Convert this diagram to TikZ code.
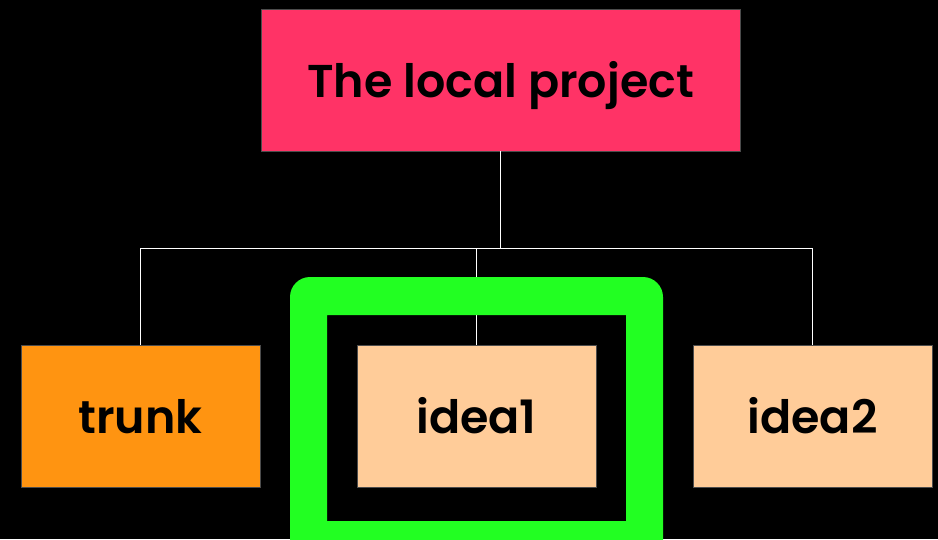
\documentclass[tikz,border=0pt]{standalone}
\usepackage{fontspec}
\setmainfont{Poppins}[BoldFont={Poppins SemiBold}]
\usetikzlibrary{calc}
\definecolor{rootpink}{HTML}{FF3366}
\definecolor{trunkorange}{HTML}{FF9411}
\definecolor{ideapeach}{HTML}{FFCC99}
\definecolor{hilitegreen}{HTML}{22FF22}

\begin{document}
\begin{tikzpicture}[x=1pt, y=-1pt,
		box/.style={draw=black!70, line width=0.5pt, minimum height=142pt, inner sep=0pt, text height=35pt, text depth=0pt, font=\fontsize{46}{46}\selectfont\bfseries},
		wire/.style={draw=white, line width=0.8pt}]
			%%%%% START %%%%%
			
			\fill[black] (0, 0) rectangle (938, 539);
			\useasboundingbox (0, 0) rectangle (938, 539);
			
			\node[box, fill=rootpink, minimum width=479pt] (root) at (500.5, 80) {The local project};
			
			\node[box, fill=trunkorange, minimum width=239pt] (trunk) at (140.5, 416) {trunk};
			\node[box, fill=ideapeach, minimum width=239pt] (idea1) at (476.5, 416) {idea1};
			\node[box, fill=ideapeach, minimum width=239pt] (idea2) at (812.5, 416) {idea2};
			
			\coordinate (bus) at (500.5, 248);
			\draw[wire] (root.south) -- (bus);
			\draw[wire] (trunk.north) -- (trunk.north |- bus) -- (idea2.north |- bus) -- (idea2.north);
			\draw[wire] (idea1.north) -- (idea1.north |- bus);
			
			% highlight frame round idea1
			\fill[hilitegreen, even odd rule, rounded corners=20pt] (290, 277) rectangle (663, 560)
				[sharp corners] (327, 315) rectangle (626, 521);
			
			%%%%% END %%%%%
\end{tikzpicture}
\end{document}
